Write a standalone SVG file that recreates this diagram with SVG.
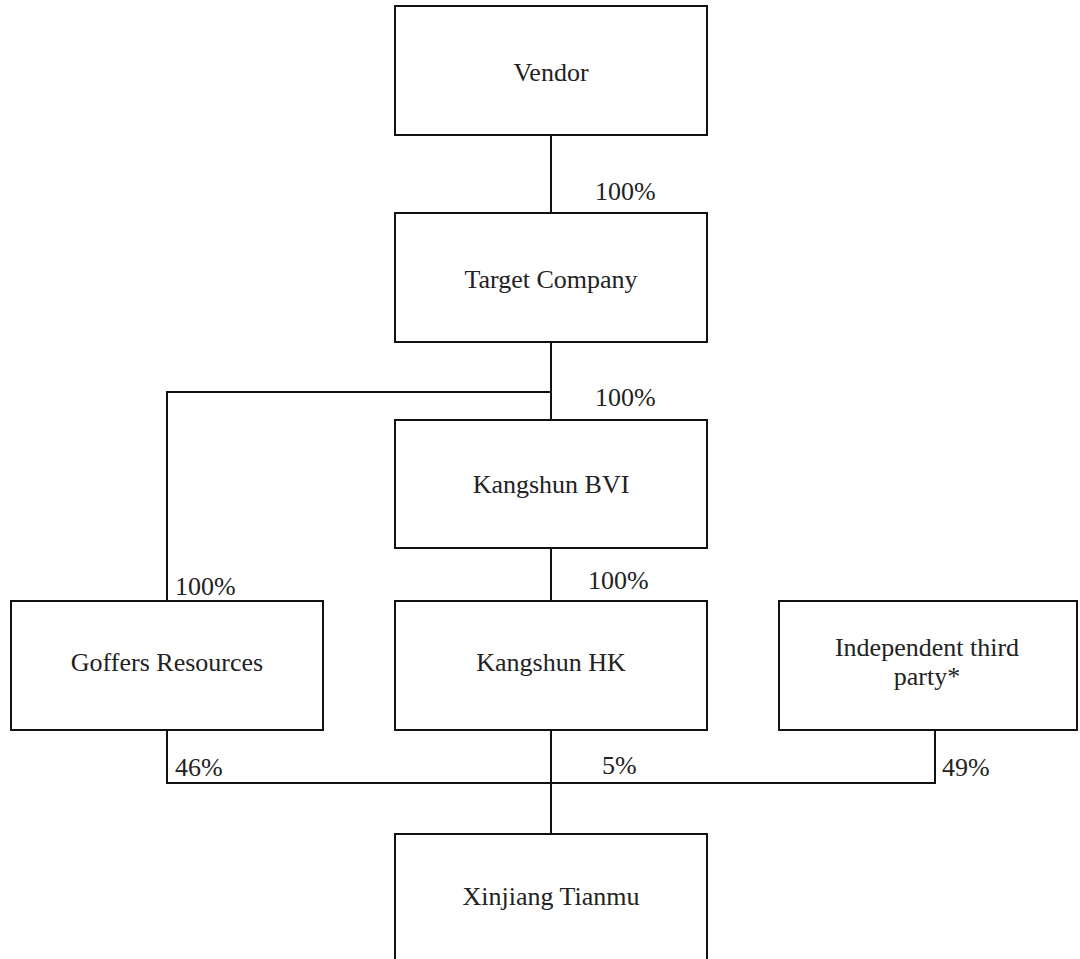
<svg xmlns="http://www.w3.org/2000/svg" width="1080" height="959" viewBox="0 0 1080 959">
<style>
.box{fill:#fff;stroke:#111;stroke-width:2}
.lbl{font-family:'Liberation Serif','DejaVu Serif',serif;font-size:26px;fill:#222}
.c{text-anchor:middle}
.con{fill:none;stroke:#111;stroke-width:2}
</style>
<rect width="1080" height="959" fill="#fff"/>
<g id="connectors">
<path class="con" d="M551 135V213"/>
<path class="con" d="M551 342V420"/>
<path class="con" d="M551 392H167V601"/>
<path class="con" d="M551 548V601"/>
<path class="con" d="M167 730V783H935V730"/>
<path class="con" d="M551 730V834"/>
<text class="lbl" x="595" y="200">100%</text>
<text class="lbl" x="595" y="406">100%</text>
<text class="lbl" x="175" y="595">100%</text>
<text class="lbl" x="588" y="589">100%</text>
<text class="lbl" x="175" y="776">46%</text>
<text class="lbl" x="602" y="774">5%</text>
<text class="lbl" x="942" y="776">49%</text>
</g>
<g id="vendor"><rect class="box" x="395" y="6" width="312" height="129"/><text class="lbl c" x="551" y="81">Vendor</text></g>
<g id="target"><rect class="box" x="395" y="213" width="312" height="129"/><text class="lbl c" x="551" y="288">Target Company</text></g>
<g id="bvi"><rect class="box" x="395" y="420" width="312" height="128"/><text class="lbl c" x="551" y="493">Kangshun BVI</text></g>
<g id="goffers"><rect class="box" x="11" y="601" width="312" height="129"/><text class="lbl c" x="167" y="671">Goffers Resources</text></g>
<g id="hk"><rect class="box" x="395" y="601" width="312" height="129"/><text class="lbl c" x="551" y="671">Kangshun HK</text></g>
<g id="independent"><rect class="box" x="779" y="601" width="298" height="129"/><text class="lbl c" x="927" y="656">Independent third</text><text class="lbl c" x="927" y="685">party*</text></g>
<g id="xinjiang"><rect class="box" x="395" y="834" width="312" height="140"/><text class="lbl c" x="551" y="905">Xinjiang Tianmu</text></g>
</svg>
